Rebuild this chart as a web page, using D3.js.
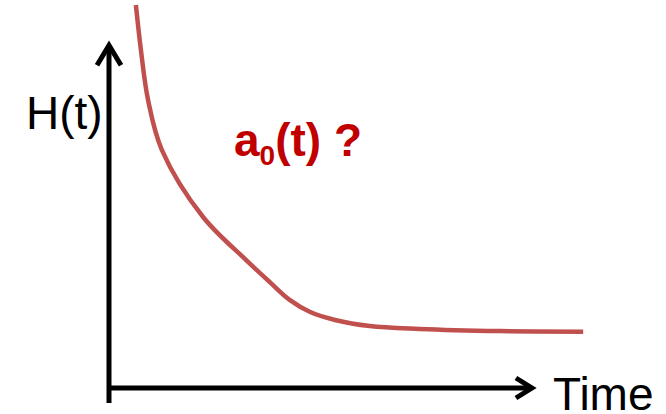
<!DOCTYPE html>
<html>
<head>
<meta charset="utf-8">
<script src="https://cdn.jsdelivr.net/npm/d3@7/dist/d3.min.js"></script>
<style>
  html, body { margin: 0; padding: 0; background: #fff; }
  svg { display: block; }
  text { font-family: "Liberation Sans", Arial, sans-serif; }
</style>
</head>
<body>
<svg id="chart" width="666" height="414"></svg>
<script>
// Decay curve H(t) over time (arbitrary units)
const timeValues = [0.64, 0.76, 0.93, 1.26, 2.24, 3.26, 3.83, 4.31, 4.79, 5.38, 6.21, 7.40, 9.31, 11.29];
const hValues    = [10.64, 9.39, 8.00, 6.61, 4.75, 3.56, 2.94, 2.44, 2.11, 1.89, 1.72, 1.64, 1.58, 1.56];

const xLabel = "Time";
const yLabel = "H(t)";
const curveLabel = { base: "a", sub: "0", rest: "(t) ?" };

const svg = d3.select("#chart");

const x = d3.scaleLinear().domain([0, 10]).range([109, 529]);
const y = d3.scaleLinear().domain([0, 10]).range([388, 28]);

const axisColor = "#000";
const axisWidth = 5;

// Vertical axis with arrow
svg.append("line")
  .attr("x1", x(0)).attr("x2", x(0))
  .attr("y1", y(0) + 15).attr("y2", y(9.52))
  .attr("stroke", axisColor).attr("stroke-width", axisWidth);
svg.append("path")
  .attr("d", d3.line()([[x(0) - 12, y(9.52) + 20], [x(0), y(9.52)], [x(0) + 12, y(9.52) + 20]]))
  .attr("fill", "none").attr("stroke", axisColor).attr("stroke-width", axisWidth)
  .attr("stroke-linejoin", "miter");

// Horizontal axis with arrow
svg.append("line")
  .attr("x1", x(0) - 2).attr("x2", x(10.07))
  .attr("y1", y(0)).attr("y2", y(0))
  .attr("stroke", axisColor).attr("stroke-width", axisWidth);
svg.append("path")
  .attr("d", d3.line()([[x(10.07) - 16, y(0) - 10], [x(10.07), y(0)], [x(10.07) - 16, y(0) + 10]]))
  .attr("fill", "none").attr("stroke", axisColor).attr("stroke-width", axisWidth)
  .attr("stroke-linejoin", "miter");

// Curve
const pts = timeValues.map((t, i) => [t, hValues[i]]);
const line = d3.line()
  .x(d => x(d[0]))
  .y(d => y(d[1]))
  .curve(d3.curveCatmullRom.alpha(0.5));
svg.append("path")
  .datum(pts)
  .attr("d", line)
  .attr("fill", "none")
  .attr("stroke", "#C0504D")
  .attr("stroke-width", 4.5);

// Axis labels
svg.append("text")
  .attr("x", 26).attr("y", 129)
  .attr("font-size", 46)
  .attr("fill", "#000")
  .text(yLabel);

svg.append("text")
  .attr("x", 553).attr("y", 410)
  .attr("font-size", 46)
  .attr("fill", "#000")
  .text(xLabel);

// Curve annotation
const ann = svg.append("text")
  .attr("x", 234).attr("y", 156)
  .attr("font-size", 46)
  .attr("font-weight", "bold")
  .attr("fill", "#C00000");
ann.append("tspan").text(curveLabel.base);
ann.append("tspan").attr("font-size", 28).attr("dy", 9).text(curveLabel.sub);
ann.append("tspan").attr("dy", -9).text(curveLabel.rest);
</script>
</body>
</html>
